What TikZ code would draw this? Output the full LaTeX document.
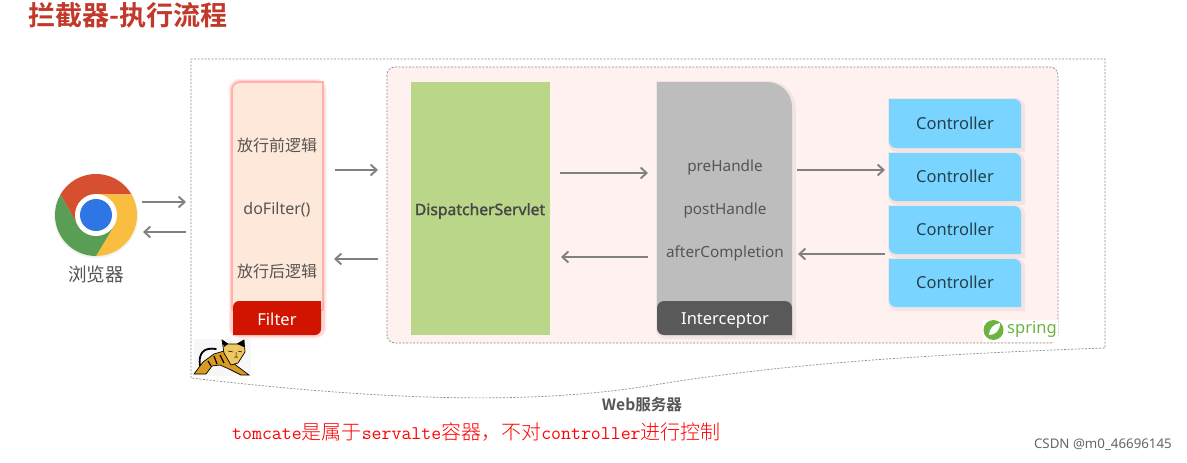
\documentclass[tikz,border=0pt]{standalone}
\usepackage{fontspec}
\usetikzlibrary{arrows.meta}
\setmainfont{Noto Sans}
\newfontfamily\notob[FakeBold=1.6]{Noto Sans}
\newfontfamily\cjk{Noto Sans CJK SC}
\newfontfamily\cjkb{Noto Sans CJK SC Bold}
\newfontfamily\cjkl{Noto Sans CJK SC Light}
\newcommand{\fsz}[1]{\fontsize{#1}{#1}\selectfont}
\definecolor{txt}{HTML}{555555}
\definecolor{arr}{HTML}{808080}
\definecolor{dashc}{HTML}{8C8C8C}
\definecolor{pinkbg}{HTML}{FFF1EF}
\definecolor{filterbg}{HTML}{FEE8DA}
\definecolor{filterglow}{HTML}{FFB0AC}
\definecolor{filterred}{HTML}{D01400}
\definecolor{greenbox}{HTML}{BAD789}
\definecolor{graybox}{HTML}{BDBDBD}
\definecolor{darkbox}{HTML}{595959}
\definecolor{ctrl}{HTML}{79D5FF}
\definecolor{springg}{HTML}{6DB33F}
\definecolor{titlec}{HTML}{C0392B}
\definecolor{catgold}{HTML}{D99A22}
\definecolor{cathead}{HTML}{F0C860}
\tikzset{
  flow/.style={draw=arr,line width=1.9pt,-{Straight Barb[length=6pt,width=11pt]}},
  dashline/.style={draw=dashc,line width=0.7pt,dash pattern=on 2pt off 1.5pt},
  label/.style={text=txt,font=\fsz{15.3}},
  cjklabel/.style={text=txt,font=\cjk\fsz{16}},
  whitelabel/.style={text=white,font=\fsz{16.5}},
  ctrllabel/.style={text=black!70!ctrl,font=\fsz{16.5}},
  halo/.style={draw=black,draw opacity=0.05,line width=5pt,fill=none},
}
\newcommand{\ctrlbox}[3]{%
  \path[halo,shift={(1.5,1.5)}] (889,#2) [rounded corners=7pt] -- (889,#3) [sharp corners] -- (1021,#3) [rounded corners=7pt] -- (1021,#2) [sharp corners] -- cycle;
  \path[fill=ctrl] (889,#2) [rounded corners=7pt] -- (889,#3) [sharp corners] -- (1021,#3) [rounded corners=7pt] -- (1021,#2) [sharp corners] -- cycle;
  \node[ctrllabel] (#1) at (955,{(#2+#3)/2-0.5}) {Controller};
}
\begin{document}
\begin{tikzpicture}[x=1pt,y=-1pt]
\useasboundingbox (0,0) rectangle (1187,463);
\fill[white] (0,0) rectangle (1187,463);

% title
\node[anchor=west,text=titlec,font=\cjkb\fsz{27},inner sep=0pt] (title) at (28,15) {拦截器-执行流程};

% outer web-server outline
\path[dashline] (191,378) -- (191,59) -- (1105,59) -- (1105,348)
  .. controls (880,356) and (760,368) .. (660,384)
  .. controls (560,401) and (430,406) .. (191,378);

% spring area
\path[fill=pinkbg,dashline,rounded corners=8pt] (387,67) rectangle (1058,343);

% chrome logo
\begin{scope}[shift={(96,215)},x=1pt,y=1pt]
  \fill[fill=black,opacity=0.06] (0,-1) circle[radius=42pt];
  \fill[fill={rgb,255:red,214;green,79;blue,46}] (35.5pt,20.5pt) arc[start angle=30,end angle=150,radius=41pt] -- (-18.2pt,-10.5pt) -- (0pt,21pt) -- cycle;
  \fill[fill={rgb,255:red,249;green,189;blue,63}] (35.5pt,20.5pt) arc[start angle=30,end angle=-90,radius=41pt] -- (18.2pt,-10.5pt) -- (0pt,21pt) -- cycle;
  \fill[fill={rgb,255:red,90;green,158;blue,86}] (0pt,-41pt) arc[start angle=270,end angle=150,radius=41pt] -- (-18.2pt,-10.5pt) -- (18.2pt,-10.5pt) -- cycle;
  \fill[white] (0,0) circle[radius=21pt];
  \fill[fill={rgb,255:red,47;green,117;blue,227}] (0,0) circle[radius=16pt];
\end{scope}
\node[text=txt,font=\cjk\fsz{18.6}] (browser) at (96,274) {浏览器};

% filter box
\path[draw=filterglow,draw opacity=0.22,line width=7pt,rounded corners=8pt] (232,335) -- (232,82) -- (323,82) -- (323,335) -- cycle;
\path[draw=filterglow,draw opacity=0.4,line width=4pt,rounded corners=8pt] (232,335) -- (232,82) -- (323,82) -- (323,335) -- cycle;
\path[fill=filterbg,draw=filterglow,line width=1.6pt] (232,310) [rounded corners=8pt] -- (232,82) [sharp corners] -- (323,82) -- (323,310) -- cycle;
\path[fill=filterred] (233,335) [rounded corners=6pt] -- (233,301) [sharp corners] -- (321,301) [rounded corners=6pt] -- (321,335) [sharp corners] -- cycle;
\node[cjklabel] (f1) at (277,145) {放行前逻辑};
\node[label,font=\fsz{16}] (f2) at (277,210) {doFilter()};
\node[cjklabel] (f3) at (277,271) {放行后逻辑};
\node[whitelabel] (f4) at (277,319) {Filter};

% dispatcher servlet
\fill[greenbox] (411,82) rectangle (550,335);
\node[text=darkbox!80!black,font=\notob\fsz{15.7}] (ds) at (480,211) {DispatcherServlet};

% interceptor
\path[halo,shift={(1.5,1.5)}] (792,335) [rounded corners=7pt] -- (657,335) [sharp corners] -- (657,82) [rounded corners=25pt] -- (792,82) [sharp corners] -- cycle;
\path[fill=graybox] (792,335) [rounded corners=7pt] -- (657,335) [sharp corners] -- (657,82) [rounded corners=25pt] -- (792,82) [sharp corners] -- cycle;
\path[fill=darkbox] [rounded corners=7pt] (792,335) -- (792,301) -- (657,301) -- (657,335) [sharp corners] -- cycle;
\node[label] (i1) at (725,168) {preHandle};
\node[label] (i2) at (725,211) {postHandle};
\node[label] (i3) at (725,253) {afterCompletion};
\node[whitelabel] (i4) at (725,321) {Interceptor};

% controllers
\ctrlbox{c1}{99}{148}
\ctrlbox{c2}{153}{201}
\ctrlbox{c3}{206}{254}
\ctrlbox{c4}{259}{307}

% connectors
\coordinate (a1) at (142,202); \coordinate (a2) at (186,202);
\coordinate (b1) at (186,232); \coordinate (b2) at (143,232);
\coordinate (d1) at (335,170); \coordinate (d2) at (378,170);
\coordinate (e1) at (378,259); \coordinate (e2) at (334,259);
\coordinate (g1) at (560,173); \coordinate (g2) at (648,173);
\coordinate (h1) at (648,257); \coordinate (h2) at (561,257);
\coordinate (j1) at (797,170); \coordinate (j2) at (885,170);
\coordinate (k1) at (885,254); \coordinate (k2) at (798,254);
\foreach \p/\q in {a1/a2,b1/b2,d1/d2,e1/e2,g1/g2,h1/h2,j1/j2,k1/k2}{\draw[flow] (\p) -- (\q);}

% tomcat logo
\fill[black!3] (194,339) rectangle (251,376);
\draw[black,line width=1.8pt,line cap=round] (200,366) .. controls (198,353) and (204,347) .. (216,349);
\path[fill=catgold,draw=black,line width=0.7pt] (194,374) -- (203,362) -- (214,354) -- (224,351) -- (233,363) -- (249,375) -- (241,375) -- (229,369) -- (220,365) -- (212,366) -- (206,374) -- cycle;
\path[fill=cathead,draw=black,line width=0.7pt] (222,340) -- (228,344) -- (237,344) -- (244,340) -- (245,352) -- (238,363) -- (231,365) -- (224,353) -- cycle;
\fill[black] (222,340) -- (228,344) -- (224,347) -- cycle (244,340) -- (237,344) -- (244,347) -- cycle;
\draw[black,line width=0.5pt] (228,351) -- (233,352) (238,351) -- (242,352) (234,357) -- (238,357) (236,352) -- (236,357);
\draw[black,line width=1.2pt] (208,361) -- (211,366) (214,356) -- (217,364) (220,355) -- (224,363);

% spring logo
\fill[white] (983,320) rectangle (1058,342);
\fill[springg] (993.5,330) circle[radius=10];
\path[fill=white] (989,335) .. controls (989,328) and (994,324) .. (1000,323) .. controls (1000,331) and (995,335) .. cycle;
\node[anchor=west,text=springg,font=\fsz{16.5},inner sep=0pt] (spring) at (1007,329) {spring};

% captions
\node[text=txt,font=\cjkb\fsz{15.6}] (web) at (642,405) {Web服务器};
\node[anchor=west,inner sep=0pt,text=red] (note) at (232,432) {\ttfamily\fsz{19.3}tomcate\cjkl\fsz{20}是属于\ttfamily\fsz{19.3}servalte\cjkl\fsz{20}容器，不对\ttfamily\fsz{19.3}controller\cjkl\fsz{20}进行控制};
\node[anchor=east,inner sep=0pt,text=black!60,font=\fsz{13.3}] (csdn) at (1172,445) {CSDN @m0\_46696145};
\end{tikzpicture}
\end{document}
